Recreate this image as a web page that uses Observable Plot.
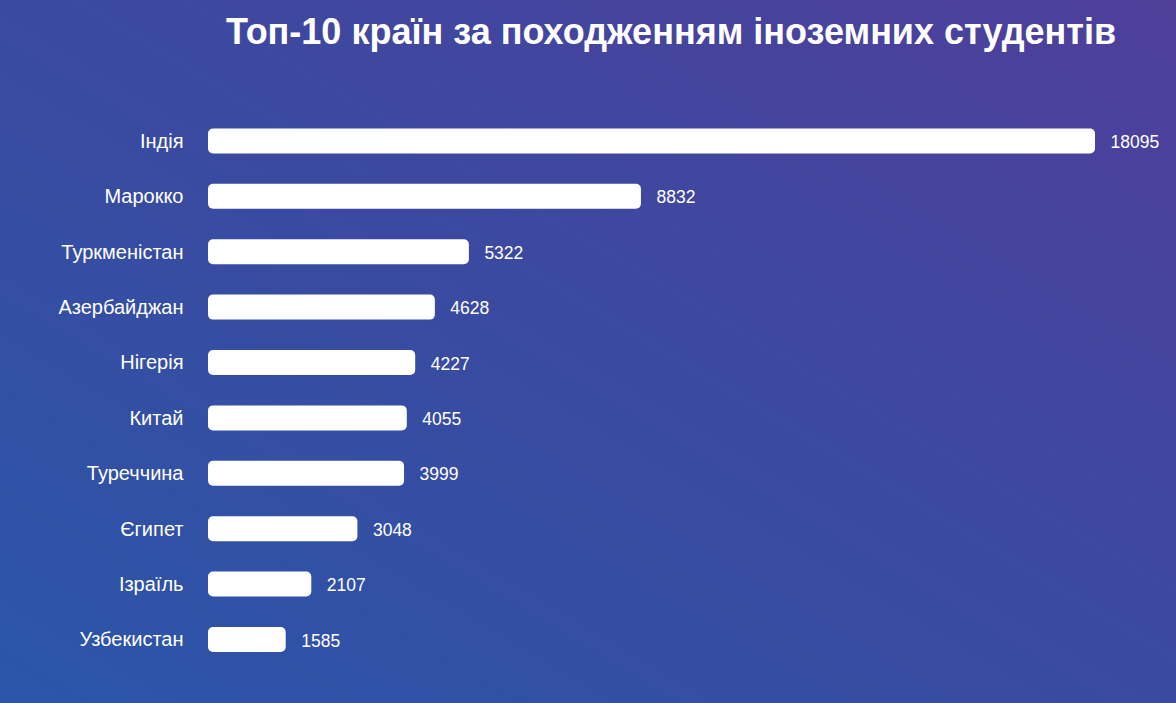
<!DOCTYPE html>
<html>
<head>
<meta charset="utf-8">
<script src="https://cdn.jsdelivr.net/npm/d3@7"></script>
<script src="https://cdn.jsdelivr.net/npm/@observablehq/plot@0.6"></script>
<style>
  html, body { margin: 0; padding: 0; }
  body {
    width: 1176px; height: 703px; overflow: hidden;
    background: linear-gradient(to top right, #2b56a9 0%, #3a4aa0 50%, #4f3f9b 100%);
    font-family: "Liberation Sans", Arial, sans-serif;
  }
  #title {
    height: 80px; box-sizing: border-box; overflow: hidden;
    padding-top: 14px; padding-left: 166px; width: 1176px;
    font-size: 36px; font-weight: bold; line-height: 36px; color: #fff;
  }
  #title span { display: block; width: 1010px; text-align: center; white-space: nowrap; }
  #chart svg { display: block; }
</style>
</head>
<body>
<div id="title"><span>Топ-10 країн за походженням іноземних студентів</span></div>
<div id="chart"></div>
<script>
const countries = ["Індія", "Марокко", "Туркменістан", "Азербайджан", "Нігерія", "Китай", "Туреччина", "Єгипет", "Ізраїль", "Узбекистан"];
const students = [18095, 8832, 5322, 4628, 4227, 4055, 3999, 3048, 2107, 1585];

const data = countries.map((c, i) => ({country: c, value: students[i]}));

const chart = Plot.plot({
  width: 1176,
  height: 623,
  marginLeft: 208,
  marginRight: 81,
  marginTop: 18,
  marginBottom: 20.6,
  style: {background: "transparent", color: "#fff", fontFamily: "'Liberation Sans', Arial, sans-serif", overflow: "visible"},
  x: {domain: [0, 18095], axis: null},
  y: {domain: countries, padding: 0.549, round: false, label: null},
  marks: [
    Plot.axisY({tickSize: 0, tickPadding: 25, fontSize: 20, label: null, fill: "#fff"}),
    Plot.barX(data, {x: "value", y: "country", fill: "#fff", rx: 5}),
    Plot.text(data, {x: "value", y: "country", text: d => String(d.value), dx: 15, dy: 1, textAnchor: "start", fill: "#fff", fontSize: 17.5})
  ]
});
document.getElementById("chart").appendChild(chart);
</script>
</body>
</html>
